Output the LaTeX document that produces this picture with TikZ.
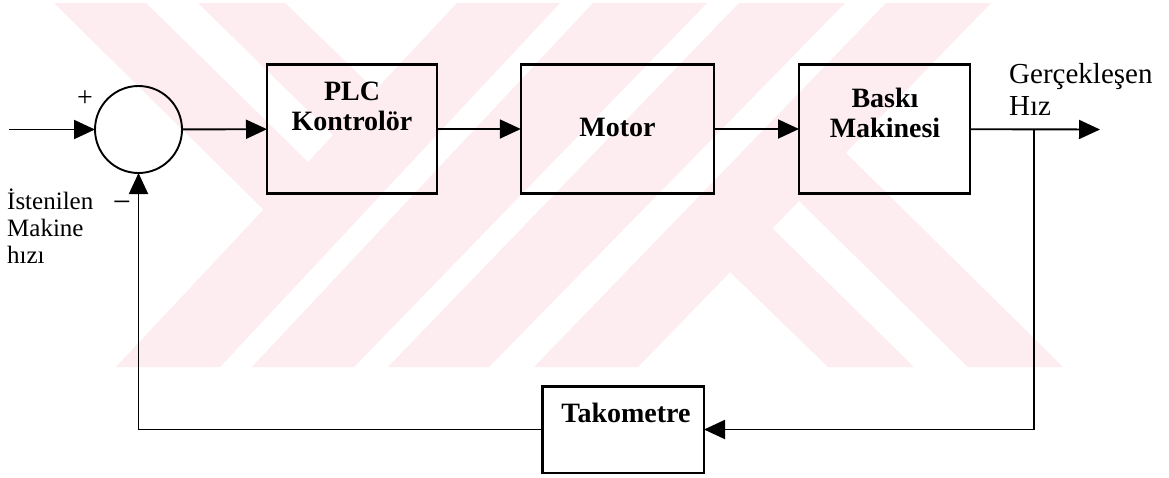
\documentclass[tikz,border=0pt]{standalone}
\usepackage{fontspec}
\setmainfont{Liberation Serif}
\usetikzlibrary{arrows.meta}
\definecolor{wmpink}{RGB}{253,237,241}

\begin{document}
\begin{tikzpicture}[x=1pt,y=-1pt,
  blk/.style={draw, line width=2.3pt, rectangle, inner sep=0pt, outer sep=0pt},
  sumnode/.style={draw, line width=1.9pt, circle, minimum size=87pt, inner sep=0pt, outer sep=0pt},
  wire/.style={line width=1.9pt},
  flow/.style={wire, -{Triangle[length=21pt,width=19pt]}},
  blabel/.style={font=\fontsize{28}{30}\selectfont\bfseries, inner sep=0pt, anchor=base},
  tlabel/.style={font=\fontsize{29}{32}\selectfont, inner sep=0pt, anchor=base west},
  llabel/.style={font=\fontsize{25}{27}\selectfont, inner sep=0pt, anchor=base west},
  sign/.style={inner sep=0pt},
  band/.style={fill=wmpink, draw=none}
]
\useasboundingbox (0,0) rectangle (1169,477);
\fill[white] (0,0) rectangle (1169,477);

% faint striped emblem in the background
\fill[band] (457,3) -- (560,3) -- (220,367) -- (116,367) -- cycle;
\fill[band] (593,3) -- (707,3) -- (354,367) -- (252,367) -- cycle;
\fill[band] (739,3) -- (845,3) -- (489,367) -- (388,367) -- cycle;
\fill[band] (886,3) -- (991,3) -- (638,367) -- (534,367) -- cycle;
\fill[band] (54,3) -- (146,3) -- (309.6,163.6) -- (265.1,211.1) -- cycle;
\fill[band] (198,3) -- (285,3) -- (376.8,91.8) -- (334.7,136.7) -- cycle;
\fill[band] (828,367) -- (914,367) -- (770.9,226.9) -- (728.5,270.5) -- cycle;
\fill[band] (968,367) -- (1063,367) -- (844.2,151.2) -- (797.5,199.5) -- cycle;

% blocks
\node[sumnode] (sum) at (138.5,129.5) {};
\node[blk, minimum width=170pt, minimum height=129pt] (plc) at (352,129) {};
\node[blk, minimum width=193pt, minimum height=129pt] (motor) at (617.3,129) {};
\node[blk, minimum width=171pt, minimum height=129pt] (baski) at (884.5,129) {};
\node[blk, minimum width=161.5pt, minimum height=86.3pt] (tako) at (623.25,429.5) {};

% block texts
\node[blabel] (plctext) at (352,100.5) {\begin{tabular}[t]{@{}c@{}}PLC\\Kontrolör\end{tabular}};
\node[blabel] (motortext) at (617.5,136) {Motor};
\node[blabel] (baskitext) at (885,107.5) {\begin{tabular}[t]{@{}c@{}}Baskı\\Makinesi\end{tabular}};
\node[blabel] (takotext) at (626,422.7) {Takometre};

% signal texts
\node[tlabel] (outtext) at (1009,83) {\begin{tabular}[t]{@{}l@{}}Gerçekleşen\\Hız\end{tabular}};
\node[llabel] (intext) at (7,209) {\begin{tabular}[t]{@{}l@{}}İstenilen\\Makine\\hızı\end{tabular}};
\node[sign, font=\fontsize{28}{30}\selectfont] (plus) at (85,99) {+};
\node[sign, font=\fontsize{32}{34}\selectfont] (minus) at (122,207) {−};

% connectors
\coordinate (instart) at (9,129.5);
\coordinate (outend) at (1100,129.5);
\coordinate (tap) at (1034,129.5);
\draw[flow] (instart) -- (sum);
\draw[flow] (sum) -- (plc);
\draw[flow] (plc) -- (motor);
\draw[flow] (motor) -- (baski);
\draw[flow] (baski) -- (outend);
\draw[flow] (tap) |- (tako);
\draw[flow] (tako) -| (sum);
\end{tikzpicture}
\end{document}
